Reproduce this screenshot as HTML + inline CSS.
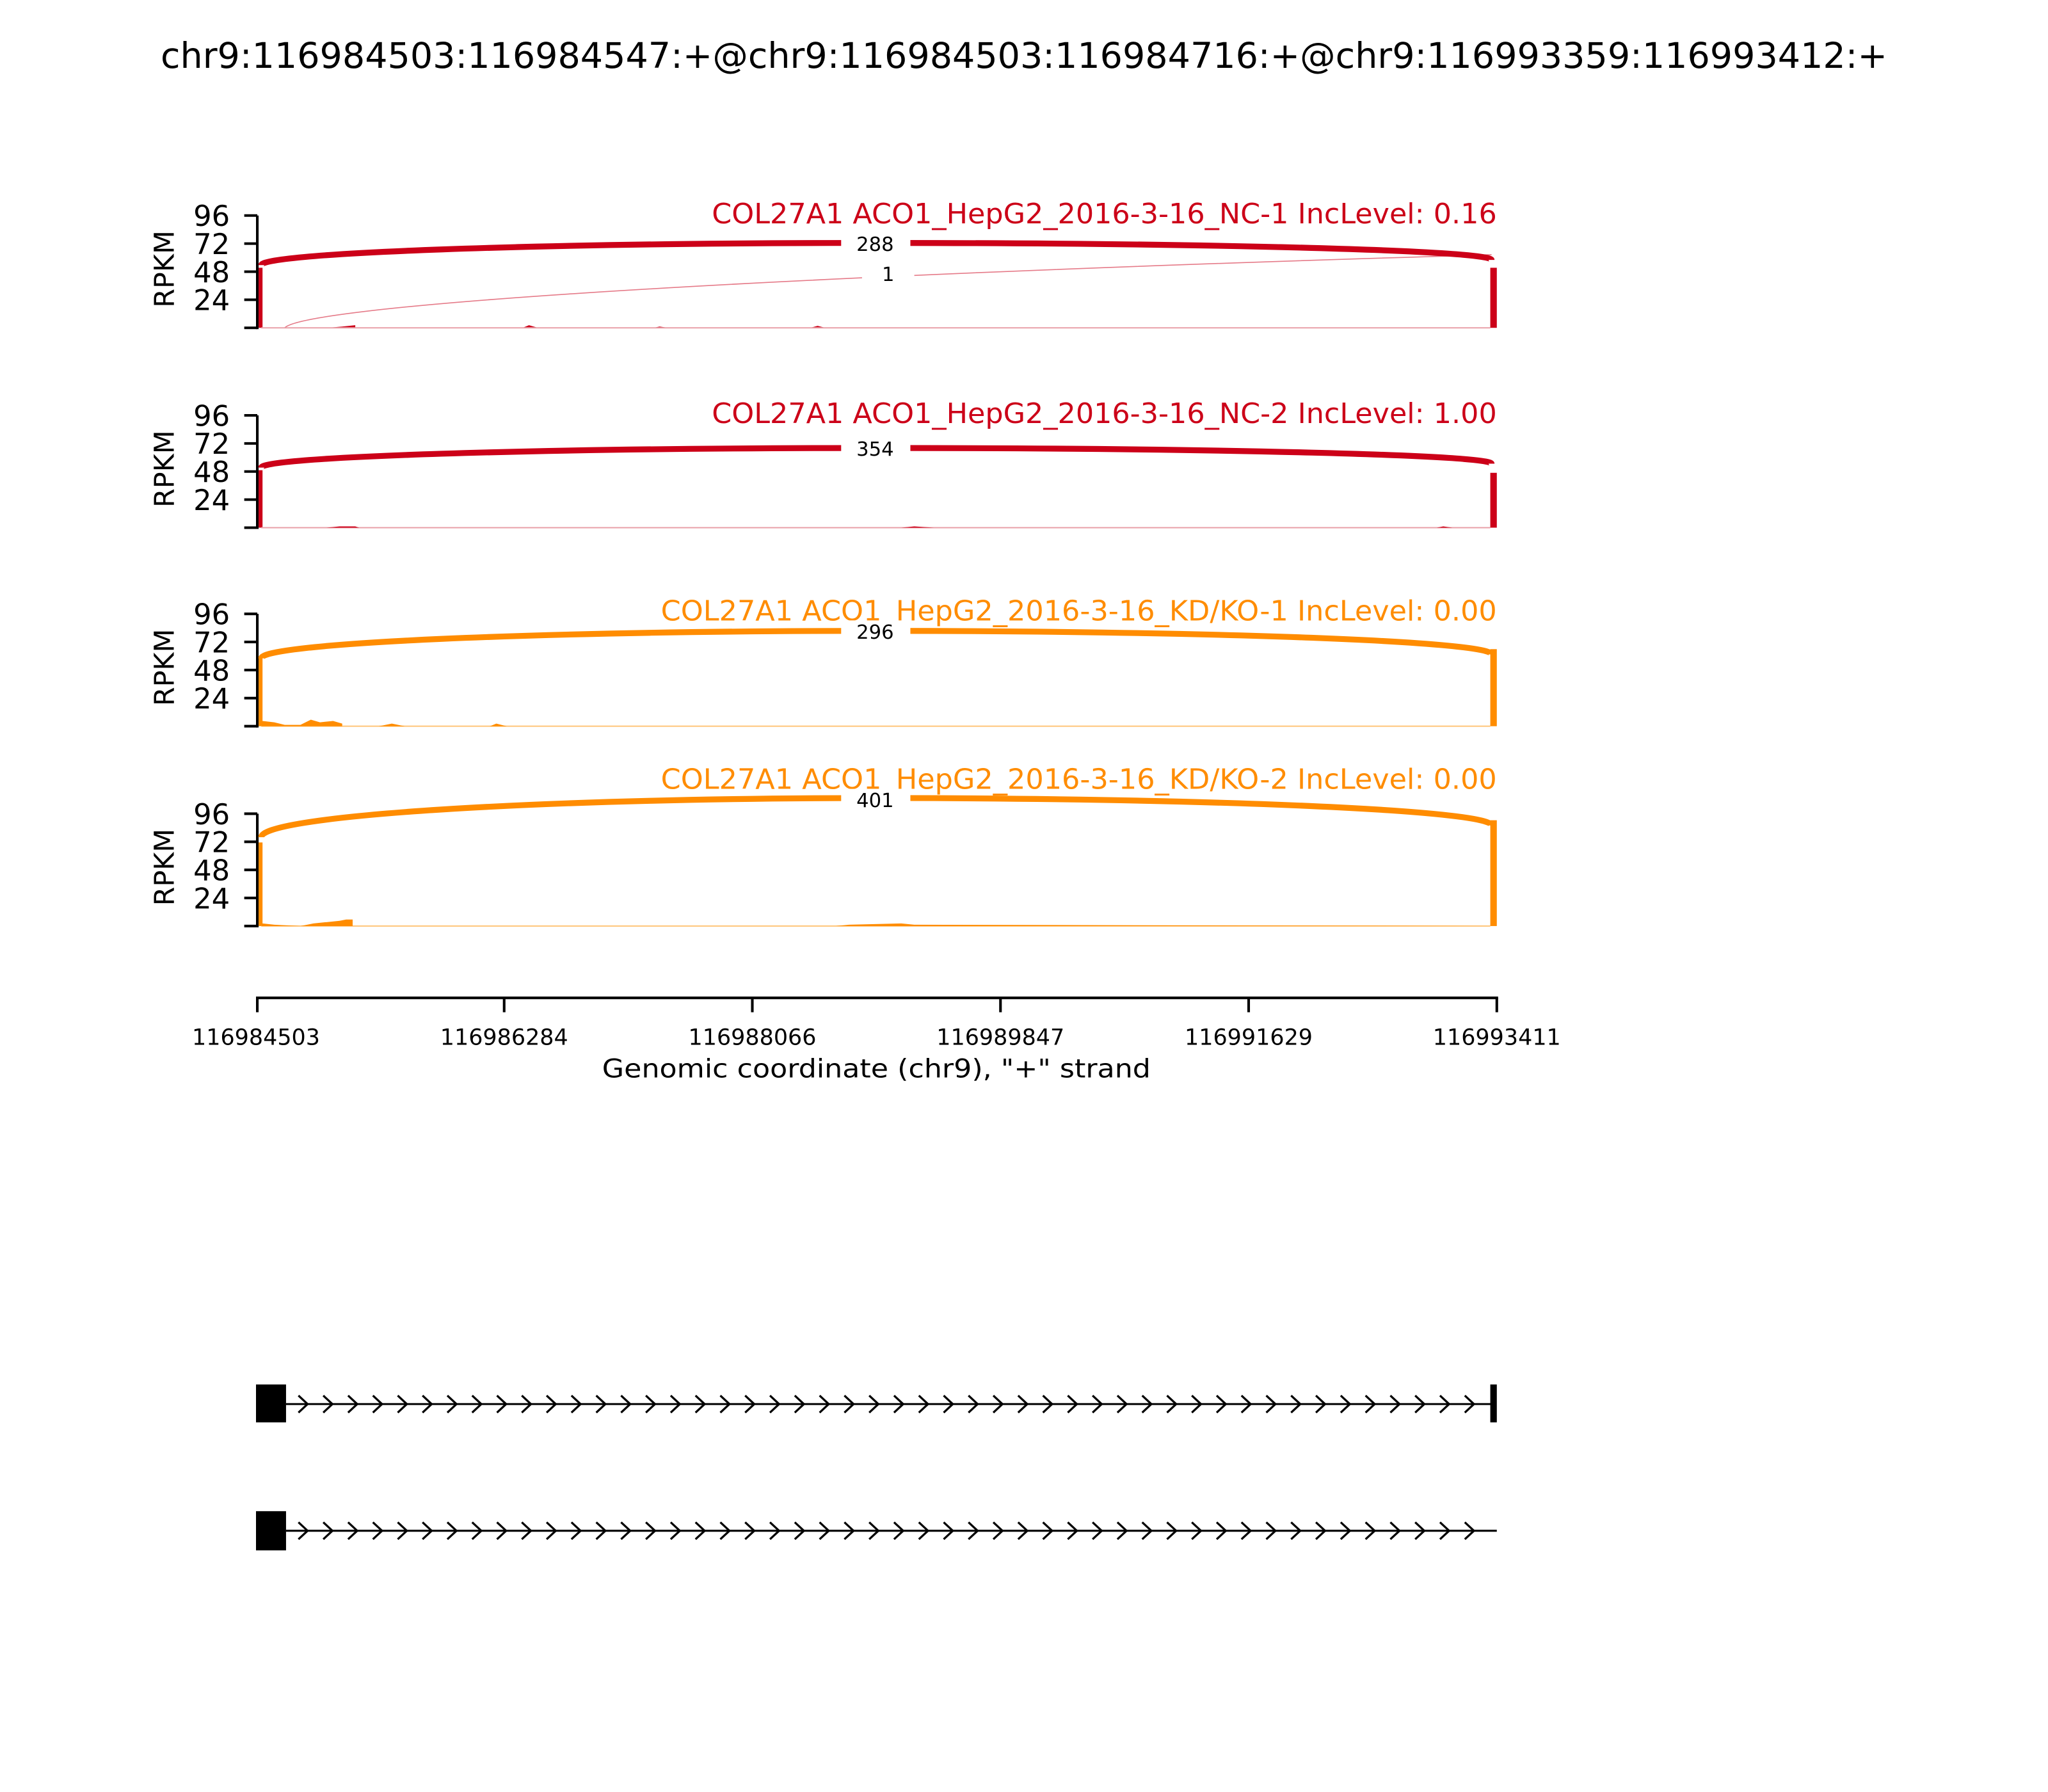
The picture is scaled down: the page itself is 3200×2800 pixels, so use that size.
<!DOCTYPE html>
<html><head><meta charset="utf-8"><style>html,body{margin:0;padding:0;background:#fff}svg{display:block}</style></head>
<body>
<svg width="3200" height="2800" viewBox="0 0 1568 1372" xmlns="http://www.w3.org/2000/svg" font-family="DejaVu Sans, Liberation Sans, sans-serif">
<rect width="1568" height="1372" fill="#fff"/>
<text x="784" y="52" font-size="27" text-anchor="middle" textLength="1322" lengthAdjust="spacingAndGlyphs">chr9:116984503:116984547:+@chr9:116984503:116984716:+@chr9:116993359:116993412:+</text>

<g>
<g stroke="#000" stroke-width="2" fill="none">
<path d="M197,165 V252"/>
<path d="M187,165 H197 M187,186.5 H197 M187,208 H197 M187,229.5 H197 M187,251 H197"/>
</g>
<g font-size="22" text-anchor="end">
<text x="176" y="173">96</text><text x="176" y="194.5">72</text><text x="176" y="216">48</text><text x="176" y="237.5">24</text>
</g>
<text transform="translate(133,206) rotate(-90)" font-size="21" text-anchor="middle">RPKM</text>
<text x="1146" y="171" font-size="21.5" fill="#cc0018" text-anchor="end" textLength="601" lengthAdjust="spacingAndGlyphs">COL27A1 ACO1_HepG2_2016-3-16_NC-1 IncLevel: 0.16</text>
<path d="M218,251 C232,236 500,214 1142,195" stroke="#e57a88" stroke-width="0.8" fill="none"/>
<path d="M200,203 A471,17 0 0 1 671,186 A471,13 0 0 1 1142,199" stroke="#cc0018" stroke-width="4.5" fill="none"/>
<rect x="198" y="205" width="3" height="46" fill="#cc0018"/>
<rect x="1141" y="205" width="5" height="46" fill="#cc0018"/>
<path d="M200,251 L250,251 L262,250 L272,249 L272,251 L400,251 L405,249 L412,251 L500,251 L505,250 L512,251 L620,251 L626,249.5 L632,251 L1141,251 Z" fill="#cc0018"/>
<line x1="200" y1="251" x2="1141" y2="251" stroke="#e8a0a8" stroke-width="1"/>
<rect x="644" y="178" width="53" height="16" fill="#fff"/>
<text x="670" y="192" font-size="15" text-anchor="middle">288</text>
<rect x="660" y="201" width="40" height="16" fill="#fff"/>
<text x="680" y="215" font-size="15" text-anchor="middle">1</text>
</g>

<g>
<g stroke="#000" stroke-width="2" fill="none">
<path d="M197,318 V405"/>
<path d="M187,318 H197 M187,339.5 H197 M187,361 H197 M187,382.5 H197 M187,404 H197"/>
</g>
<g font-size="22" text-anchor="end">
<text x="176" y="326">96</text><text x="176" y="347.5">72</text><text x="176" y="369">48</text><text x="176" y="390.5">24</text>
</g>
<text transform="translate(133,359) rotate(-90)" font-size="21" text-anchor="middle">RPKM</text>
<text x="1146" y="324" font-size="21.5" fill="#cc0018" text-anchor="end" textLength="601" lengthAdjust="spacingAndGlyphs">COL27A1 ACO1_HepG2_2016-3-16_NC-2 IncLevel: 1.00</text>
<path d="M200,358 A471,15 0 0 1 671,343 A471,12 0 0 1 1142,355" stroke="#cc0018" stroke-width="4.5" fill="none"/>
<rect x="198" y="360" width="3" height="44" fill="#cc0018"/>
<rect x="1141" y="362" width="5" height="42" fill="#cc0018"/>
<line x1="200" y1="404" x2="1141" y2="404" stroke="#e8a0a8" stroke-width="1"/>
<path d="M250,404 L260,403 L272,403 L275,404 L690,404 L700,403 L715,404 L1100,404 L1105,403 L1112,404 Z" fill="#cc0018"/>
<rect x="644" y="335" width="53" height="16" fill="#fff"/>
<text x="670" y="349" font-size="15" text-anchor="middle">354</text>
</g>

<g>
<g stroke="#000" stroke-width="2" fill="none">
<path d="M197,470 V557"/>
<path d="M187,470 H197 M187,491.5 H197 M187,513 H197 M187,534.5 H197 M187,556 H197"/>
</g>
<g font-size="22" text-anchor="end">
<text x="176" y="478">96</text><text x="176" y="499.5">72</text><text x="176" y="521">48</text><text x="176" y="542.5">24</text>
</g>
<text transform="translate(133,511) rotate(-90)" font-size="21" text-anchor="middle">RPKM</text>
<text x="1146" y="475" font-size="21.5" fill="#ff8c00" text-anchor="end" textLength="640" lengthAdjust="spacingAndGlyphs">COL27A1 ACO1_HepG2_2016-3-16_KD/KO-1 IncLevel: 0.00</text>
<path d="M200,504 A471,21 0 0 1 671,483 A471,18 0 0 1 1142,501" stroke="#ff8c00" stroke-width="4.5" fill="none"/>
<rect x="198" y="503" width="3" height="53" fill="#ff8c00"/>
<rect x="1141" y="497" width="5" height="59" fill="#ff8c00"/>
<line x1="200" y1="556" x2="1141" y2="556" stroke="#ffc880" stroke-width="1"/>
<path d="M200,556 L201,552 L210,553 L218,555 L230,555 L238,551 L245,553 L255,552 L262,554 L262,556 L290,556 L300,554 L310,556 L375,556 L380,554 L388,556 L1141,556 Z" fill="#ff8c00"/>
<rect x="644" y="475" width="53" height="16" fill="#fff"/>
<text x="670" y="489" font-size="15" text-anchor="middle">296</text>
</g>

<g>
<g stroke="#000" stroke-width="2" fill="none">
<path d="M197,623 V710"/>
<path d="M187,623 H197 M187,644.5 H197 M187,666 H197 M187,687.5 H197 M187,709 H197"/>
</g>
<g font-size="22" text-anchor="end">
<text x="176" y="631">96</text><text x="176" y="652.5">72</text><text x="176" y="674">48</text><text x="176" y="695.5">24</text>
</g>
<text transform="translate(133,664) rotate(-90)" font-size="21" text-anchor="middle">RPKM</text>
<text x="1146" y="604" font-size="21.5" fill="#ff8c00" text-anchor="end" textLength="640" lengthAdjust="spacingAndGlyphs">COL27A1 ACO1_HepG2_2016-3-16_KD/KO-2 IncLevel: 0.00</text>
<path d="M200,641 A471,30 0 0 1 671,611 A471,21 0 0 1 1142,632" stroke="#ff8c00" stroke-width="4.5" fill="none"/>
<rect x="198" y="645" width="3" height="64" fill="#ff8c00"/>
<rect x="1141" y="628" width="5" height="81" fill="#ff8c00"/>
<line x1="200" y1="709" x2="1141" y2="709" stroke="#ffc880" stroke-width="1"/>
<path d="M200,709 L201,707 L210,708 L230,709 L240,707 L250,706 L260,705 L265,704 L270,704 L270,709 L640,709 L650,708 L690,707 L700,708 L1141,709 Z" fill="#ff8c00"/>
<rect x="644" y="604" width="53" height="16" fill="#fff"/>
<text x="670" y="618" font-size="15" text-anchor="middle">401</text>
</g>

<g stroke="#000" stroke-width="2" fill="none">
<path d="M196,764 H1147"/>
<path d="M197,764 V775 M386,764 V775 M576,764 V775 M766,764 V775 M956,764 V775 M1146,764 V775"/>
</g>
<g font-size="17" text-anchor="middle">
<text x="196" y="800" textLength="98" lengthAdjust="spacingAndGlyphs">116984503</text>
<text x="386" y="800" textLength="98" lengthAdjust="spacingAndGlyphs">116986284</text>
<text x="576" y="800" textLength="98" lengthAdjust="spacingAndGlyphs">116988066</text>
<text x="766" y="800" textLength="98" lengthAdjust="spacingAndGlyphs">116989847</text>
<text x="956" y="800" textLength="98" lengthAdjust="spacingAndGlyphs">116991629</text>
<text x="1146" y="800" textLength="98" lengthAdjust="spacingAndGlyphs">116993411</text>
</g>
<text x="671" y="825" font-size="19.5" text-anchor="middle" textLength="420" lengthAdjust="spacingAndGlyphs">Genomic coordinate (chr9), "+" strand</text>

<rect x="196" y="1060" width="23" height="29" fill="#000"/>
<line x1="219" y1="1075" x2="1142" y2="1075" stroke="#000" stroke-width="1.5"/>
<rect x="1141" y="1060" width="5" height="29" fill="#000"/>
<rect x="196" y="1157" width="23" height="30" fill="#000"/>
<line x1="219" y1="1172" x2="1146" y2="1172" stroke="#000" stroke-width="1.5"/>
<path id="arr" stroke="#000" stroke-width="1.6" fill="none" d="
M228.5,1068.5 L235.5,1075 L228.5,1081.5 M247.5,1068.5 L254.5,1075 L247.5,1081.5 M266.5,1068.5 L273.5,1075 L266.5,1081.5 M285.5,1068.5 L292.5,1075 L285.5,1081.5 M304.5,1068.5 L311.5,1075 L304.5,1081.5 M323.5,1068.5 L330.5,1075 L323.5,1081.5 M342.5,1068.5 L349.5,1075 L342.5,1081.5 M361.5,1068.5 L368.5,1075 L361.5,1081.5 M380.5,1068.5 L387.5,1075 L380.5,1081.5 M399.5,1068.5 L406.5,1075 L399.5,1081.5 M418.5,1068.5 L425.5,1075 L418.5,1081.5 M437.5,1068.5 L444.5,1075 L437.5,1081.5 M456.5,1068.5 L463.5,1075 L456.5,1081.5 M475.5,1068.5 L482.5,1075 L475.5,1081.5 M494.5,1068.5 L501.5,1075 L494.5,1081.5 M513.5,1068.5 L520.5,1075 L513.5,1081.5 M532.5,1068.5 L539.5,1075 L532.5,1081.5 M551.5,1068.5 L558.5,1075 L551.5,1081.5 M570.5,1068.5 L577.5,1075 L570.5,1081.5 M589.5,1068.5 L596.5,1075 L589.5,1081.5 M608.5,1068.5 L615.5,1075 L608.5,1081.5 M627.5,1068.5 L634.5,1075 L627.5,1081.5 M646.5,1068.5 L653.5,1075 L646.5,1081.5 M665.5,1068.5 L672.5,1075 L665.5,1081.5 M684.5,1068.5 L691.5,1075 L684.5,1081.5 M703.5,1068.5 L710.5,1075 L703.5,1081.5 M722.5,1068.5 L729.5,1075 L722.5,1081.5 M741.5,1068.5 L748.5,1075 L741.5,1081.5 M760.5,1068.5 L767.5,1075 L760.5,1081.5 M779.5,1068.5 L786.5,1075 L779.5,1081.5 M798.5,1068.5 L805.5,1075 L798.5,1081.5 M817.5,1068.5 L824.5,1075 L817.5,1081.5 M836.5,1068.5 L843.5,1075 L836.5,1081.5 M855.5,1068.5 L862.5,1075 L855.5,1081.5 M874.5,1068.5 L881.5,1075 L874.5,1081.5 M893.5,1068.5 L900.5,1075 L893.5,1081.5 M912.5,1068.5 L919.5,1075 L912.5,1081.5 M931.5,1068.5 L938.5,1075 L931.5,1081.5 M950.5,1068.5 L957.5,1075 L950.5,1081.5 M969.5,1068.5 L976.5,1075 L969.5,1081.5 M988.5,1068.5 L995.5,1075 L988.5,1081.5 M1007.5,1068.5 L1014.5,1075 L1007.5,1081.5 M1026.5,1068.5 L1033.5,1075 L1026.5,1081.5 M1045.5,1068.5 L1052.5,1075 L1045.5,1081.5 M1064.5,1068.5 L1071.5,1075 L1064.5,1081.5 M1083.5,1068.5 L1090.5,1075 L1083.5,1081.5 M1102.5,1068.5 L1109.5,1075 L1102.5,1081.5 M1121.5,1068.5 L1128.5,1075 L1121.5,1081.5
"/>
<use href="#arr" transform="translate(0,97)"/>
</svg>
</body></html>
